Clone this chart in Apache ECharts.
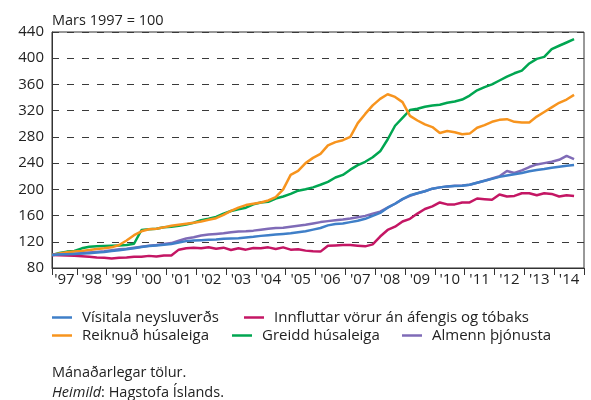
<!DOCTYPE html>
<html><head><meta charset="utf-8">
<script src="https://cdn.jsdelivr.net/npm/echarts@6/dist/echarts.min.js"></script>
<style>html,body{margin:0;padding:0;background:#fff}#c{width:591px;height:400px}</style>
</head><body><div id="c"></div>
<script>
const quarters = [
"1997-03","1997-06","1997-09","1997-12","1998-03","1998-06","1998-09","1998-12",
"1999-03","1999-06","1999-09","1999-12","2000-03","2000-06","2000-09","2000-12",
"2001-03","2001-06","2001-09","2001-12","2002-03","2002-06","2002-09","2002-12",
"2003-03","2003-06","2003-09","2003-12","2004-03","2004-06","2004-09","2004-12",
"2005-03","2005-06","2005-09","2005-12","2006-03","2006-06","2006-09","2006-12",
"2007-03","2007-06","2007-09","2007-12","2008-03","2008-06","2008-09","2008-12",
"2009-03","2009-06","2009-09","2009-12","2010-03","2010-06","2010-09","2010-12",
"2011-03","2011-06","2011-09","2011-12","2012-03","2012-06","2012-09","2012-12",
"2013-03","2013-06","2013-09","2013-12","2014-03","2014-06","2014-09"];

const yearLabels = ["'97","'98","'99","'00","'01","'02","'03","'04","'05","'06","'07","'08","'09","'10","'11","'12","'13","'14"];

const visitala = [
100,100.5,101,101.5, 102,102.5,103.5,104.5, 106,107,108.5,110, 112,113.5,114.5,115.5,
116.5,119,121,122, 122.5,123,123.5,124.5, 125,125.5,126.5,127.5, 129,130,131,132,
133,134.5,136,138.5, 141,145,147,148, 150,152,155,159.5, 164,172,178,185,
191,194,197,201, 203,204.5,205,205.5, 207,210,213,216, 219,221,223,225,
227.5,229.5,231,233, 234.5,236,237];

const innfluttar = [
100,99.5,99,98.5, 98,97,96,95.5, 94.5,95.5,96,97, 97,98.5,97.5,99,
99,108,110,111, 110,111.5,109.5,111, 107.5,110,108,110.5, 110,111.5,109,111.5,
108,108.5,106.5,105.5, 105,114,114.5,115, 115,114,113,116, 128,138,143,151,
155,163,170,174, 180,177,177,180, 180,186,185,184, 192,189,190,194,
194,191,194,193, 189,191,190];

const reiknud = [
100,102,104,105, 106,107.5,109,110, 111.5,115,122,130, 136,139,140,142,
144.5,146,147.5,149, 151,153.5,156,161, 167,172,176,178, 180,183,188,200,
222,228,240,248, 254,267,272,275, 280,301,315,328, 338,345,341,333,
312,305,299,295, 286,289,287,284, 285,294,298,303, 306,307,303,302,
302,311,318,325, 332,337,344];

const greidd = [
100,103,105,106, 110,112.5,113,113.5, 114,114.5,115,117, 138,139,140,142,
143,144.5,146.5,149, 153,155,158,163, 167,169.5,172,177, 180,181,186,189,
193,198,200,203, 207,211.5,218,222, 230,237,242,249, 258,276,297,309,
321,323,326,328, 329,332,334,337, 343,351,356,360, 366,372,377,381,
392,399,402,414, 419,424,429];

const almenn = [
100,100.5,101,101.5, 102.5,103.5,104.5,105.5, 107,108.5,109.5,111, 112.5,114,115,116.5,
118,121.5,125,127, 129.5,131,132,133, 134.5,135.5,136,137, 138.5,140,141,141.5,
143,144.5,146,148, 150,151.5,153,154, 155.5,157.5,159.5,163, 166,172,178,185,
190,194,197,201, 203,204.5,205.5,206, 207,210,213,216.5, 220,228,225,229,
234,238,240,242, 245,251,246];

const names = ["Vísitala neysluverðs","Innfluttar vörur án áfengis og tóbaks","Reiknuð húsaleiga","Greidd húsaleiga","Almenn þjónusta"];
const colors = ["#3f7fc8","#c41664","#f7941e","#00a651","#7f6bb7"];
const seriesData = [visitala, innfluttar, reiknud, greidd, almenn];
const zOrder = [6,5,3,2,4];

function monthIndex(s){const p=s.split('-').map(Number);return (p[0]-1997)*12+(p[1]-1);}
const xs = quarters.map(monthIndex);

const FONT = "Open Sans";
const FS = 15;

const tickVals = [2]; for (let m=12; m<=216; m+=12) tickVals.push(m);
const labelVals = [7]; for (let m=18; m<=210; m+=12) labelVals.push(m);

const legendPos = [[52,310],[244,310],[52,328],[232,328],[402,328]];

const chart = echarts.init(document.getElementById('c'), null, {renderer:'canvas'});
chart.setOption({
  animation:false,
  textStyle:{fontFamily:FONT},
  title:[
    {text:"Mars 1997 = 100", left:52, top:13, padding:0, textStyle:{fontFamily:FONT,fontSize:14.5,fontWeight:'normal',color:'#222'}},
    {text:"Mánaðarlegar tölur.", left:52, top:365, padding:0, textStyle:{fontFamily:FONT,fontSize:14.5,fontWeight:'normal',color:'#222'}},
    {text:"{i|Heimild}: Hagstofa Íslands.", left:52, top:385, padding:0, textStyle:{fontFamily:FONT,fontSize:14.5,fontWeight:'normal',color:'#222',rich:{i:{fontFamily:FONT,fontSize:14.5,fontStyle:'italic',color:'#222'}}}}
  ],
  legend: names.map((n,i)=>({
    data:[n], left:legendPos[i][0], top:legendPos[i][1], padding:0, icon:'rect',
    itemWidth:20, itemHeight:2.5, selectedMode:false,
    textStyle:{fontFamily:FONT,fontSize:FS,color:'#222',padding:[0,0,0,5]}
  })),
  grid:{left:52,right:7,top:32,bottom:132,show:true,borderColor:'#333',borderWidth:1,containLabel:false},
  xAxis:{
    type:'value', min:2, max:216,
    axisLine:{show:true,lineStyle:{color:'#333',width:1}},
    axisTick:{show:true,customValues:tickVals,length:7,lineStyle:{color:'#333',width:1}},
    axisLabel:{customValues:labelVals,margin:4,fontFamily:FONT,fontSize:FS,color:'#222',
      formatter:v=>yearLabels[Math.floor(v/12)]},
    splitLine:{show:false}
  },
  yAxis:{
    type:'value', min:80, max:440, interval:40,
    axisLine:{show:true,lineStyle:{color:'#333',width:1}},
    axisTick:{show:false},
    axisLabel:{margin:8,fontFamily:FONT,fontSize:FS,color:'#222'},
    splitLine:{show:true,lineStyle:{color:'#3a3a3a',width:1.2,type:[7,8]}}
  },
  series: names.map((n,i)=>({
    name:n, type:'line', showSymbol:false, symbol:'none', z:zOrder[i],
    color:colors[i], lineStyle:{width:2.5,color:colors[i]},
    data: seriesData[i].map((v,k)=>[xs[k],v])
  }))
});
</script></body></html>
